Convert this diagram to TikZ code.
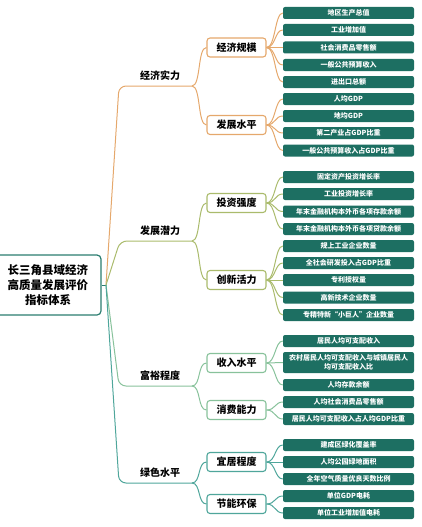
\documentclass[tikz,border=0pt]{standalone}
\usepackage{fontspec}
\setmainfont{Noto Sans CJK SC}
\definecolor{cA}{HTML}{E5A86C}
\definecolor{cB}{HTML}{AABB6C}
\definecolor{cC}{HTML}{88C29B}
\definecolor{cD}{HTML}{4FA69B}
\definecolor{rootc}{HTML}{2B7D70}
\definecolor{leafc}{HTML}{1D6F62}
\tikzset{
  rootbox/.style={draw=rootc, line width=1.2pt, rounded corners=4pt, fill=white, minimum width=106pt, minimum height=60pt, align=center, font=\fontsize{11.5}{15}\selectfont\bfseries, inner sep=0pt},
  midbox/.style={draw=#1, line width=1.1pt, rounded corners=3pt, fill=white, minimum width=59pt, minimum height=19pt, inner sep=0pt, font=\fontsize{10}{12}\selectfont\bfseries},
  leafbox/.style={fill=leafc, rounded corners=2pt, minimum width=131pt, minimum height=12pt, inner sep=0pt, text=white, font=\fontsize{7}{9}\selectfont\bfseries, align=center},
  lbl/.style={font=\fontsize{10}{12}\selectfont\bfseries, inner sep=0pt},
  conn/.style={draw=#1, line width=1pt},
}
\begin{document}
\begin{tikzpicture}[x=1pt,y=-1pt]
\useasboundingbox (0,0) rectangle (422,527);
% root
\node[rootbox] (root) at (48,285) {长三角县域经济\\高质量发展评价\\指标体系};
\coordinate (stub) at (106,285);
% level 1 labels and ends
\node[lbl] (b1) at (160,76) {经济实力};
\node[lbl] (b2) at (160,231) {发展潜力};
\node[lbl] (b3) at (160,376) {富裕程度};
\node[lbl] (b4) at (160,473) {绿色水平};
\coordinate (e1) at (192,86);
\coordinate (e2) at (192,241);
\coordinate (e3) at (192,386);
\coordinate (e4) at (192,483);
% level 2 boxes
\node[midbox=cA] (m1) at (236.5,47.5) {经济规模};
\node[midbox=cA] (m2) at (236.5,125) {发展水平};
\node[midbox=cB] (m3) at (236.5,203) {投资强度};
\node[midbox=cB] (m4) at (236.5,280) {创新活力};
\node[midbox=cC] (m5) at (236.5,363) {收入水平};
\node[midbox=cC] (m6) at (236.5,410) {消费能力};
\node[midbox=cD] (m7) at (236.5,462) {宜居程度};
\node[midbox=cD] (m8) at (236.5,504) {节能环保};
% leaves
\node[leafbox] (l1) at (348.5,13) {地区生产总值};
\node[leafbox] (l2) at (348.5,30) {工业增加值};
\node[leafbox] (l3) at (348.5,47.5) {社会消费品零售额};
\node[leafbox] (l4) at (348.5,65) {一般公共预算收入};
\node[leafbox] (l5) at (348.5,82) {进出口总额};
\node[leafbox] (l6) at (348.5,99) {人均GDP};
\node[leafbox] (l7) at (348.5,116) {地均GDP};
\node[leafbox] (l8) at (348.5,133) {第二产业占GDP比重};
\node[leafbox] (l9) at (348.5,150.5) {一般公共预算收入占GDP比重};
\node[leafbox] (l10) at (348.5,177) {固定资产投资增长率};
\node[leafbox] (l11) at (348.5,194) {工业投资增长率};
\node[leafbox] (l12) at (348.5,211.5) {年末金融机构本外币各项存款余额};
\node[leafbox] (l13) at (348.5,229) {年末金融机构本外币各项贷款余额};
\node[leafbox] (l14) at (348.5,246) {规上工业企业数量};
\node[leafbox] (l15) at (348.5,263) {全社会研发投入占GDP比重};
\node[leafbox] (l16) at (348.5,280) {专利授权量};
\node[leafbox] (l17) at (348.5,297.5) {高新技术企业数量};
\node[leafbox] (l18) at (348.5,315) {专精特新“小巨人”企业数量};
\node[leafbox] (l19) at (348.5,341) {居民人均可支配收入};
\node[leafbox, minimum height=21pt] (l20) at (348.5,362.5) {农村居民人均可支配收入与城镇居民人\\均可支配收入比};
\node[leafbox] (l21) at (348.5,385) {人均存款余额};
\node[leafbox] (l22) at (348.5,402) {人均社会消费品零售额};
\node[leafbox] (l23) at (348.5,419) {居民人均可支配收入占人均GDP比重};
\node[leafbox] (l24) at (348.5,445) {建成区绿化覆盖率};
\node[leafbox] (l25) at (348.5,462) {人均公园绿地面积};
\node[leafbox] (l26) at (348.5,479) {全年空气质量优良天数比例};
\node[leafbox] (l27) at (348.5,496) {单位GDP电耗};
\node[leafbox] (l28) at (348.5,513) {单位工业增加值电耗};
% root stub
\draw[conn=rootc] (root.east) -- (stub);
% level 1 branches
\draw[conn=cA, rounded corners=7pt] (stub) -- ([xshift=13pt]stub |- e1) -- (e1);
\draw[conn=cB, rounded corners=7pt] (stub) -- ([xshift=14pt]stub |- e2) -- (e2);
\draw[conn=cC, rounded corners=7pt] (stub) -- ([xshift=13pt]stub |- e3) -- (e3);
\draw[conn=cD, rounded corners=7pt] (stub) -- ([xshift=13pt]stub |- e4) -- (e4);
% level 1 to level 2
\foreach \e/\m/\c in {e1/m1/cA, e1/m2/cA, e2/m3/cB, e2/m4/cB, e3/m5/cC, e3/m6/cC, e4/m7/cD, e4/m8/cD}
  \draw[conn=\c] (\e) .. controls +(9,0) and +(-9,0) .. (\m.west);
% level 2 to leaves
\foreach \i in {1,...,5} \draw[conn=cA] (m1.east) .. controls +(9,0) and +(-8,0) .. (l\i.west);
\foreach \i in {6,...,9} \draw[conn=cA] (m2.east) .. controls +(9,0) and +(-8,0) .. (l\i.west);
\foreach \i in {10,...,13} \draw[conn=cB] (m3.east) .. controls +(9,0) and +(-8,0) .. (l\i.west);
\foreach \i in {14,...,18} \draw[conn=cB] (m4.east) .. controls +(9,0) and +(-8,0) .. (l\i.west);
\foreach \i in {19,...,21} \draw[conn=cC] (m5.east) .. controls +(9,0) and +(-8,0) .. (l\i.west);
\foreach \i in {22,23} \draw[conn=cC] (m6.east) .. controls +(9,0) and +(-8,0) .. (l\i.west);
\foreach \i in {24,...,26} \draw[conn=cD] (m7.east) .. controls +(9,0) and +(-8,0) .. (l\i.west);
\foreach \i in {27,28} \draw[conn=cD] (m8.east) .. controls +(9,0) and +(-8,0) .. (l\i.west);
\end{tikzpicture}
\end{document}
